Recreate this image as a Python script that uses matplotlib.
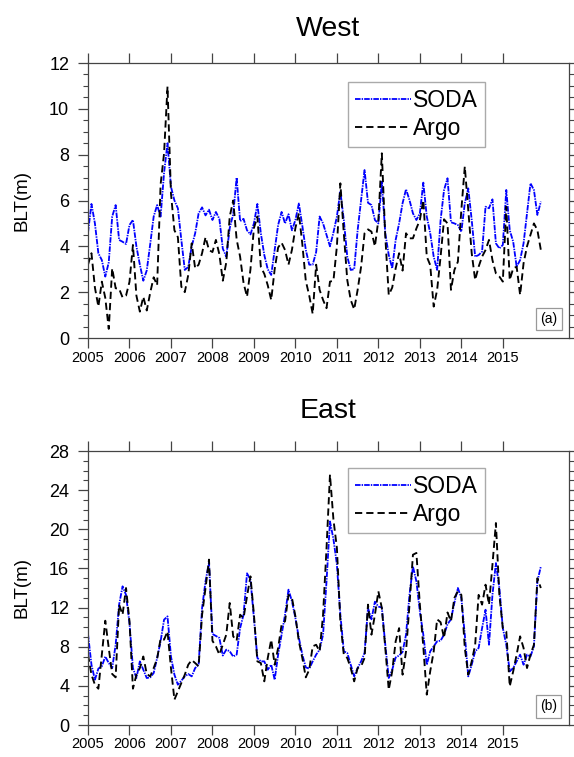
import numpy as np
import matplotlib
matplotlib.use("Agg")
import matplotlib.pyplot as plt
from matplotlib.ticker import MultipleLocator

plt.rcParams['font.family'] = ['Liberation Sans', 'DejaVu Sans']
plt.rcParams['lines.scale_dashes'] = False

years = list(range(2005, 2016))
n_months = 132

west_soda = [4.6, 5.85, 5.0, 3.7, 3.4, 2.68, 3.3, 5.3, 5.8, 4.28, 4.2, 4.1,
             4.93, 5.15, 4.0, 3.2, 2.5, 2.95, 4.1, 5.3, 5.8, 5.3, 7.2, 8.5,
             6.6, 6.0, 5.66, 4.28, 2.97, 3.1, 4.0, 4.57, 5.44, 5.7, 5.35, 5.6,
             5.15, 5.5, 5.2, 3.9, 3.55, 4.8, 5.4, 7.0, 5.1, 5.2, 4.7, 4.52,
             5.0, 5.85, 4.57, 3.62, 3.0, 2.75, 3.85, 4.93, 5.5, 5.0, 5.4, 4.7,
             5.15, 5.87, 4.9, 3.85, 3.2, 3.2, 3.75, 5.3, 5.0, 4.5, 4.0, 4.6,
             5.3, 6.4, 5.15, 3.55, 2.97, 3.0, 4.7, 6.0, 7.33, 5.9, 5.8, 5.15,
             5.0, 6.82, 4.57, 3.62, 3.04, 4.28, 5.0, 5.88, 6.49, 6.02, 5.44, 5.15,
             5.44, 6.78, 5.3, 4.57, 3.55, 2.97, 5.15, 6.46, 6.97, 5.05, 5.0, 4.93,
             4.64, 5.88, 6.53, 5.15, 3.55, 3.62, 3.77, 5.73, 5.66, 6.05, 4.13, 3.91,
             4.06, 6.46, 4.71, 4.2, 3.11, 3.4, 4.13, 5.44, 6.75, 6.46, 5.37, 5.95]

west_argo = [3.2, 3.7, 2.2, 1.37, 2.46, 1.75, 0.4, 3.04, 2.17, 2.15, 1.77, 1.85,
             2.45, 4.06, 1.85, 1.15, 1.8, 1.2, 1.98, 2.65, 2.3, 6.7, 8.05, 10.97,
             6.3, 4.7, 4.4, 2.24, 2.0, 2.75, 4.13, 3.04, 3.2, 3.7, 4.4, 3.84,
             3.75, 4.28, 3.65, 2.5, 3.3, 5.3, 6.0, 4.3, 3.55, 2.4, 1.8, 3.0,
             4.8, 5.3, 3.1, 2.8, 2.3, 1.66, 3.0, 3.95, 4.16, 3.84, 3.2, 3.85,
             4.8, 5.44, 4.1, 2.5, 1.85, 1.05, 3.2, 2.1, 1.66, 1.3, 2.46, 2.5,
             4.0, 6.75, 4.57, 2.53, 1.66, 1.25, 2.1, 3.11, 4.57, 4.74, 4.64, 4.0,
             5.15, 8.06, 4.42, 1.88, 2.2, 3.04, 3.7, 2.94, 4.57, 4.35, 4.35, 4.78,
             5.15, 6.02, 3.55, 3.18, 1.37, 2.1, 3.55, 5.18, 5.0, 2.1, 2.97, 3.33,
             5.59, 7.48, 5.59, 3.7, 2.53, 3.11, 3.55, 3.84, 4.28, 3.4, 2.82, 2.68,
             2.46, 5.73, 2.53, 3.04, 3.11, 1.88, 3.26, 4.0, 4.5, 5.0, 4.71, 3.84]

east_soda = [9.3, 6.16, 4.63, 5.76, 6.0, 7.0, 6.33, 5.82, 8.2, 12.3, 14.17, 13.3,
             10.4, 5.82, 4.8, 6.5, 5.65, 4.8, 4.87, 5.31, 6.85, 8.55, 10.76, 11.1,
             7.0, 5.14, 4.12, 4.53, 4.97, 5.21, 4.97, 5.82, 6.16, 11.95, 14.68, 16.6,
             9.3, 9.1, 8.9, 7.1, 7.7, 7.53, 7.0, 7.19, 9.9, 11.27, 15.5, 14.85,
             10.93, 6.85, 6.5, 6.5, 5.65, 6.16, 4.63, 7.19, 9.23, 11.27, 13.83, 12.64,
             10.93, 8.9, 7.19, 5.89, 5.76, 6.5, 7.19, 7.7, 9.23, 14.68, 20.8, 19.0,
             16.4, 11.27, 7.53, 7.36, 6.16, 4.97, 5.82, 6.5, 7.36, 11.95, 10.8, 12.6,
             12.1, 12.0, 8.2, 4.8, 5.65, 6.9, 7.1, 7.46, 9.23, 13.3, 16.2, 14.68,
             11.6, 9.23, 6.16, 7.53, 8.04, 8.55, 8.62, 9.23, 10.3, 10.8, 12.5, 14.0,
             12.98, 9.23, 4.97, 6.16, 7.53, 7.87, 9.9, 11.78, 8.2, 13.3, 16.55, 14.0,
             9.9, 8.2, 5.48, 5.82, 6.5, 7.19, 6.16, 7.19, 7.0, 8.04, 14.68, 16.2]

east_argo = [7.19, 5.14, 4.12, 3.71, 7.19, 10.66, 7.87, 5.21, 4.87, 12.3, 11.27, 14.0,
             10.6, 3.71, 5.14, 5.82, 7.0, 5.21, 4.97, 5.82, 6.78, 8.82, 8.72, 9.57,
             5.82, 2.59, 3.44, 4.29, 5.14, 6.16, 6.64, 6.33, 6.0, 11.27, 14.0, 16.9,
             8.6, 8.04, 7.19, 8.2, 9.23, 12.47, 9.06, 8.62, 11.27, 10.93, 13.15, 15.19,
             11.27, 6.5, 6.33, 4.46, 6.85, 8.72, 6.16, 7.87, 10.25, 10.6, 13.3, 12.98,
             11.1, 8.55, 6.85, 4.87, 5.65, 8.04, 8.2, 7.53, 11.27, 18.08, 25.58, 21.0,
             18.1, 10.6, 7.19, 6.85, 5.82, 4.46, 5.82, 6.0, 6.85, 12.3, 9.23, 11.27,
             13.66, 11.95, 7.87, 3.61, 5.48, 8.55, 9.9, 5.14, 7.53, 12.3, 17.4, 17.58,
             12.3, 8.0, 3.1, 5.5, 7.5, 10.8, 10.5, 8.9, 11.5, 10.6, 13.0, 13.66,
             13.3, 7.87, 5.14, 6.5, 8.2, 13.3, 12.3, 14.34, 12.3, 16.38, 20.64, 13.3,
             9.9, 9.57, 3.95, 5.48, 7.19, 9.06, 7.87, 5.82, 7.19, 8.2, 15.0, 14.0]

t = 2005 + np.arange(n_months) / 12.0

W, H = 574, 757
fig = plt.figure(figsize=(W / 100, H / 100), dpi=100)

def px_axes(left, top, right, bottom):
    return fig.add_axes([left / W, 1 - bottom / H, (right - left) / W, (bottom - top) / H])

panels = [
    dict(box=(88, 63, 568.5, 338), soda=west_soda, argo=west_argo, ymax=12, major=2, minor=0.5,
         title='West', tag='(a)', leg_top=0.931, title_y=29),
    dict(box=(88, 451, 568.5, 725), soda=east_soda, argo=east_argo, ymax=28, major=4, minor=1,
         title='East', tag='(b)', leg_top=0.938, title_y=411),
]

soda_style = (0, (4.0, 0.8, 1.0, 0.8))
argo_style = (0, (5.2, 2.9))

for p in panels:
    ax = px_axes(*p['box'])
    ax.plot(t, p['soda'], color='#0000ff', lw=1.3, linestyle=soda_style, label='SODA')
    ax.plot(t, p['argo'], color='black', lw=1.35, linestyle=argo_style, label='Argo')
    ax.set_xlim(2005, 2005 + 139 / 12)
    ax.set_ylim(0, p['ymax'])
    ax.set_xticks(years)
    ax.set_xticklabels([str(y) for y in years])
    ax.yaxis.set_major_locator(MultipleLocator(p['major']))
    ax.yaxis.set_minor_locator(MultipleLocator(p['minor']))
    ax.tick_params(axis='both', which='major', direction='out', length=7.5, width=0.9,
                   color='#444444', top=True, right=True)
    ax.tick_params(axis='y', which='minor', direction='out', length=3.8, width=0.8,
                   color='#444444', left=True, right=True)
    ax.tick_params(axis='x', which='major', labelsize=10.5, pad=1.5)
    ax.tick_params(axis='y', which='major', labelsize=13, pad=6)
    for s in ax.spines.values():
        s.set_color('#444444')
        s.set_linewidth(0.9)
    leg = ax.legend(loc='upper left', bbox_to_anchor=(0.541, p['leg_top']), fontsize=16.5,
                    handlelength=2.45, handletextpad=0.1, borderpad=0.3, labelspacing=0.22,
                    borderaxespad=0, fancybox=False, framealpha=1, edgecolor='#aaaaaa')
    leg.get_frame().set_linewidth(1.0)
    ax.text(0.959, 0.068, p['tag'], transform=ax.transAxes, ha='center', va='center',
            fontsize=10,
            bbox=dict(boxstyle='square,pad=0.3', fc='white', ec='#999999', lw=0.9))
    fig.text((p['box'][0] + p['box'][2]) / 2 / W, 1 - p['title_y'] / H, p['title'],
             ha='center', va='center', fontsize=20.5)
    fig.text(22 / W, 1 - (p['box'][1] + p['box'][3]) / 2 / H, 'BLT(m)', rotation=90,
             ha='center', va='center', fontsize=13.5)

fig.savefig('out.png', dpi=100)
